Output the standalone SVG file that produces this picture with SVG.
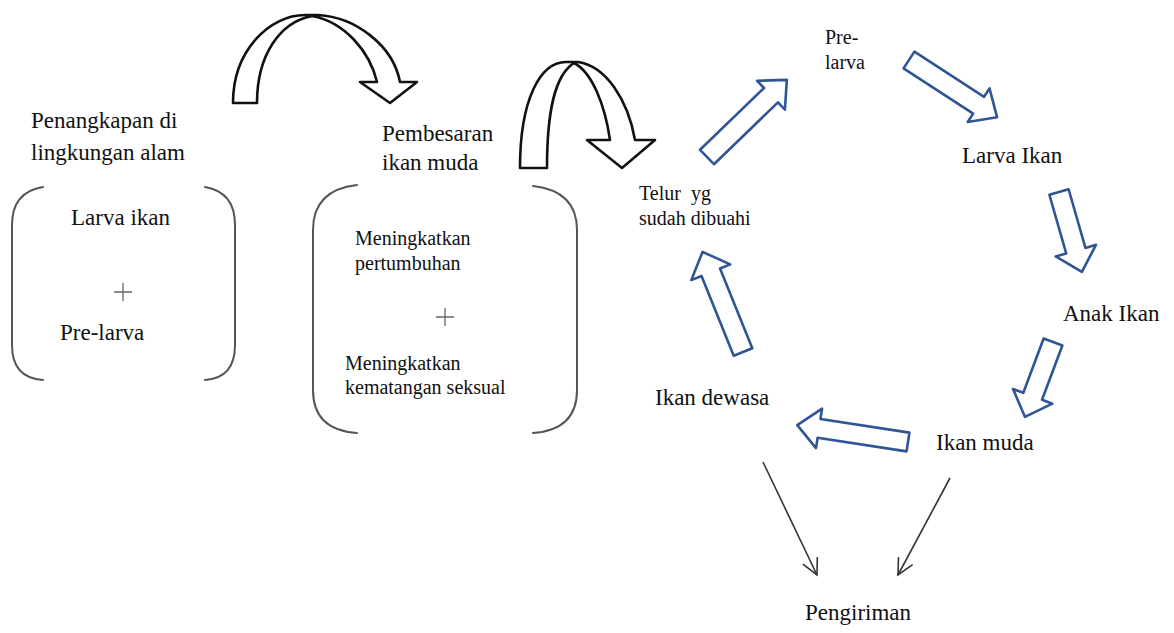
<svg xmlns="http://www.w3.org/2000/svg" width="1174" height="633" viewBox="0 0 1174 633">
<style>
text{font-family:'Liberation Serif','DejaVu Serif',serif;fill:#111;}
.lg{font-size:23px;}
.sm{font-size:20px;}
.br{fill:none;stroke:#555;stroke-width:2;stroke-linecap:round;}
.plus{stroke:#666;stroke-width:1.3;}
.ba{fill:#fff;stroke:#2f5597;stroke-width:2.6;stroke-linejoin:round;}
.ca{fill:#fff;stroke:#111;stroke-width:2.6;stroke-linejoin:round;}
.thin{stroke:#333;stroke-width:1.6;fill:none;marker-end:url(#open);}
</style>
<defs>
<marker id="open" markerUnits="userSpaceOnUse" markerWidth="30" markerHeight="30" refX="0" refY="0" viewBox="-20 -15 25 30" orient="auto">
<path d="M-16,-8 L0,0 L-16,8" fill="none" stroke="#333" stroke-width="1.6"/>
</marker>
</defs>
<rect width="1174" height="633" fill="#fff"/>

<g id="capture" font-family="Liberation Serif, serif">
<text class="lg" x="31" y="128">Penangkapan di</text>
<text class="lg" x="31" y="160">lingkungan alam</text>
</g>
<g id="capture-box">
<path class="br" d="M43,187 Q12,192 12,225 L12,345 Q12,378 43,380"/>
<path class="br" d="M205,187 Q235,192 235,225 L235,345 Q235,378 205,380"/>
<text class="lg" x="71" y="225">Larva ikan</text>
<path class="plus" d="M114,292 H132 M123,283 V301"/>
<text class="lg" x="60" y="340">Pre-larva</text>
</g>

<g id="grow">
<text class="lg" x="382" y="141">Pembesaran</text>
<text class="lg" x="382" y="170">ikan muda</text>
</g>
<g id="grow-box">
<path class="br" d="M357,185 Q313,190 313,230 L313,390 Q313,430 357,433"/>
<path class="br" d="M533,186 Q577,191 577,230 L577,390 Q577,430 533,433"/>
<text class="sm" x="355" y="245">Meningkatkan</text>
<text class="sm" x="355" y="270">pertumbuhan</text>
<path class="plus" d="M436,317 H454 M445,308 V326"/>
<text class="sm" x="345" y="370">Meningkatkan</text>
<text class="sm" x="345" y="394">kematangan seksual</text>
</g>

<g id="egg"><text class="sm" x="639" y="200" xml:space="preserve">Telur  yg</text><text class="sm" x="639" y="225">sudah dibuahi</text></g>
<g id="prelarva"><text class="sm" x="825" y="44">Pre-</text><text class="sm" x="825" y="69">larva</text></g>
<g id="larva"><text class="lg" x="962" y="163">Larva Ikan</text></g>
<g id="anak"><text class="lg" x="1063" y="321">Anak Ikan</text></g>
<g id="muda"><text class="lg" x="936" y="450">Ikan muda</text></g>
<g id="dewasa"><text class="lg" x="655" y="405">Ikan dewasa</text></g>
<g id="kirim"><text class="lg" x="805" y="620">Pengiriman</text></g>

<g id="connectors">
<path class="ca" d="M233,103 C233,50 270,15 305,15 L318,15 C355,17 393,45 400,82 L417,82 L390,103 L360,82 L377,82 C370,52 345,22 312,16 C280,22 257,55 257,103 Z"/>
<path class="ca" d="M520,168 C520,100 540,62 566,62 L578,62 C606,66 628,100 635,140 L655,140 L622,168 L587,140 L610,140 C605,105 592,72 574,63 C555,75 547,110 547,168 Z"/>
<path class="ba" transform="translate(707,157) rotate(-44)" d="M0,-10 L89,-10 L89,-20 L111,0 L89,20 L89,10 L0,10 Z"/>
<path class="ba" transform="translate(909,60) rotate(33)" d="M0,-10 L83,-10 L83,-20 L105,0 L83,20 L83,10 L0,10 Z"/>
<path class="ba" transform="translate(1059,192) rotate(74)" d="M0,-10 L61,-10 L61,-21 L83,0 L61,21 L61,10 L0,10 Z"/>
<path class="ba" transform="translate(1053,342) rotate(110.5)" d="M0,-10 L58,-10 L58,-21 L80,0 L58,21 L58,10 L0,10 Z"/>
<path class="ba" transform="translate(908,442) rotate(188.7)" d="M0,-9.5 L90,-9.5 L90,-20 L112,0 L90,20 L90,9.5 L0,9.5 Z"/>
<path class="ba" transform="translate(743,352) rotate(-112)" d="M0,-10 L86,-10 L86,-21 L108,0 L86,21 L86,10 L0,10 Z"/>
<line class="thin" x1="763" y1="462" x2="817" y2="575"/>
<line class="thin" x1="950" y1="478" x2="898" y2="575"/>
</g>
</svg>
